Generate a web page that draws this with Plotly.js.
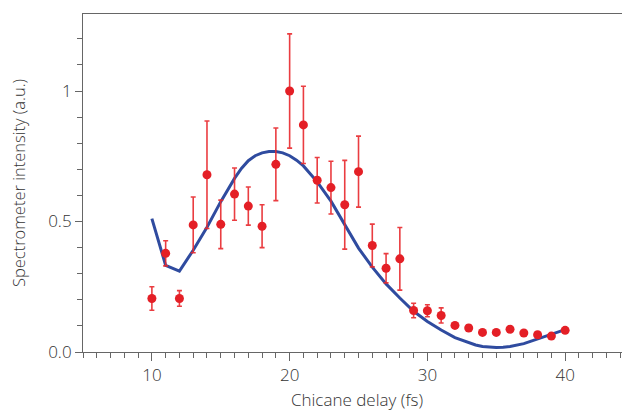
<!DOCTYPE html>
<html>
<head>
<meta charset="utf-8">
<script src="https://cdn.plot.ly/plotly-3.0.1.min.js"></script>
<style>
html,body{margin:0;padding:0;overflow:hidden;background:#fff;width:622px;height:411px;}
#chart{width:640px;height:411px;}
</style>
</head>
<body>
<div id="chart"></div>
<script>
// Measured data (chicane delay in fs)
var delay = [10,11,12,13,14,15,16,17,18,19,20,21,22,23,24,25,26,27,28,29,30,31,32,33,34,35,36,37,38,39,40];
var intensity = [0.205,0.378,0.205,0.487,0.679,0.489,0.605,0.559,0.482,0.719,1.0,0.870,0.658,0.630,0.564,0.691,0.408,0.321,0.357,0.159,0.158,0.140,0.102,0.092,0.075,0.075,0.087,0.073,0.066,0.061,0.083];
var intensityErr = [0.045,0.048,0.03,0.107,0.206,0.093,0.1,0.073,0.082,0.139,0.219,0.148,0.087,0.101,0.17,0.136,0.082,0.056,0.12,0.028,0.023,0.029,0.008,0.012,0.006,0.006,0.006,0.006,0.006,0.006,0.006];
// Simulation curve
var simDelay = [10,11,12,13,14,15,16,16.5,17,17.5,18,18.5,19,19.5,20,20.5,21,22,23,24,25,26,27,28,29,30,31,32,33,33.5,34,34.5,35,35.5,36,37,38,39,40];
var simIntensity = [0.511,0.332,0.310,0.39,0.478,0.576,0.665,0.703,0.733,0.752,0.763,0.768,0.768,0.763,0.752,0.735,0.713,0.652,0.578,0.487,0.398,0.325,0.261,0.207,0.156,0.117,0.084,0.055,0.035,0.027,0.021,0.018,0.017,0.018,0.021,0.032,0.049,0.067,0.086];
// Tick labels
var xTickVals = [10,20,30,40];
var yTickVals = [0,0.5,1];
var yTickText = ["0.0","0.5","1"];

var fam = "'Open Sans', sans-serif";
var txtColor = '#333333';

var traces = [
  {
    x: simDelay, y: simIntensity, type:'scatter', mode:'lines',
    line:{color:'#2f4b9f', width:3, shape:'linear'},
    hoverinfo:'skip', showlegend:false
  },
  {
    x: delay, y: intensity, type:'scatter', mode:'markers',
    marker:{color:'#e41f26', size:9},
    error_y:{type:'data', array:intensityErr, visible:true, color:'rgba(232,40,44,0.9)', thickness:1.6, width:2.5},
    showlegend:false
  }
];

var layout = {
  width:640, height:411,
  margin:{l:83, r:9, t:14, b:59},
  paper_bgcolor:'#fff', plot_bgcolor:'#fff',
  font:{family:fam, size:17, color:txtColor, weight:300},
  xaxis:{
    range:[5,44.78],
    tickmode:'array', tickvals:xTickVals,
    ticks:'outside', ticklen:8, tickwidth:1, tickcolor:'#666',
    minor:{tickmode:'linear', tick0:0, dtick:1, ticks:'outside', ticklen:5, tickwidth:1, tickcolor:'#666', showgrid:false},
    showline:true, linecolor:'#666', linewidth:1, mirror:true,
    showgrid:false, zeroline:false,
    tickfont:{family:fam, size:17, color:txtColor, weight:300},
    title:{text:'Chicane delay (fs)', font:{family:fam, size:17, color:txtColor, weight:300}, standoff:9}
  },
  yaxis:{
    range:[0,1.295],
    tickmode:'array', tickvals:yTickVals, ticktext:yTickText,
    ticks:'outside', ticklen:7, tickwidth:1, tickcolor:'#666',
    minor:{tickmode:'linear', tick0:0, dtick:0.1, ticks:'outside', ticklen:5, tickwidth:1, tickcolor:'#666', showgrid:false},
    showline:true, linecolor:'#666', linewidth:1, mirror:false,
    showgrid:false, zeroline:false,
    tickfont:{family:fam, size:17, color:txtColor, weight:300},
    title:{text:'Spectrometer intensity (a.u.)', font:{family:fam, size:16.5, color:txtColor, weight:300}, standoff:18}
  }
};

Plotly.newPlot('chart', traces, layout, {displayModeBar:false, staticPlot:true});
</script>
</body>
</html>
